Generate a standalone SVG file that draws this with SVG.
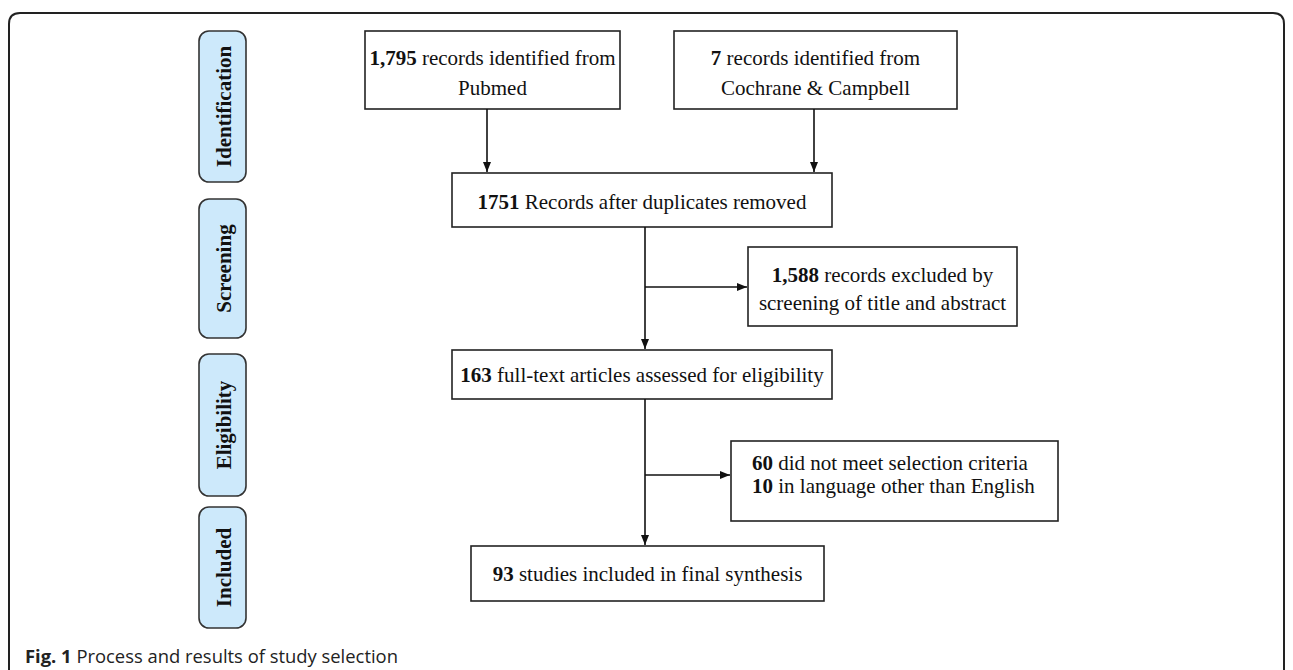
<svg xmlns="http://www.w3.org/2000/svg" width="1293" height="670" viewBox="0 0 1293 670">
<style>
.frame{fill:none;stroke:#222;stroke-width:2}
.phase rect{fill:#cde9fb;stroke:#333;stroke-width:1.6}
.phase text{font-family:"Liberation Serif",serif;font-weight:bold;font-size:21px;fill:#111;text-anchor:middle}
.box rect{fill:#fff;stroke:#222;stroke-width:1.6}
.box text{font-family:"Liberation Serif",serif;font-size:21px;fill:#111;text-anchor:middle}
.box text.l{text-anchor:start}
.b{font-weight:bold}
.conn line{stroke:#111;stroke-width:1.6;fill:none}
.cap{font-family:"Open Sans","Noto Sans",sans-serif;font-size:18.4px;fill:#222}
</style>
<defs>
<marker id="ah" viewBox="0 0 10 10" refX="10" refY="5" markerWidth="10" markerHeight="10" markerUnits="userSpaceOnUse" orient="auto">
<path d="M0,1 L10,5 L0,9 Z" fill="#111"/>
</marker>
</defs>
<path class="frame" d="M9,670 L9,24 Q9,13 20,13 L1273,13 Q1284,13 1284,24 L1284,670"/>

<g id="phase-identification" class="phase"><rect x="199" y="31" width="47" height="151" rx="10"/><text transform="translate(231,106.5) rotate(-90)">Identification</text></g>
<g id="phase-screening" class="phase"><rect x="199" y="199" width="47" height="139" rx="10"/><text transform="translate(231,268.5) rotate(-90)">Screening</text></g>
<g id="phase-eligibility" class="phase"><rect x="199" y="354" width="47" height="142" rx="10"/><text transform="translate(231,425) rotate(-90)">Eligibility</text></g>
<g id="phase-included" class="phase"><rect x="199" y="507" width="47" height="121" rx="10"/><text transform="translate(231,567.5) rotate(-90)">Included</text></g>

<g id="pubmed" class="box"><rect x="365" y="31" width="255" height="78"/><text x="492.5" y="65"><tspan class="b">1,795</tspan> records identified from</text><text x="492.5" y="95">Pubmed</text></g>
<g id="cochrane" class="box"><rect x="674" y="31" width="283" height="78"/><text x="815.5" y="65"><tspan class="b">7</tspan> records identified from</text><text x="815.5" y="95">Cochrane &amp; Campbell</text></g>
<g id="dedup" class="box"><rect x="452" y="173" width="380" height="54"/><text x="642" y="209"><tspan class="b">1751</tspan> Records after duplicates removed</text></g>
<g id="excluded1" class="box"><rect x="748" y="247" width="269" height="79"/><text x="882.5" y="282"><tspan class="b">1,588</tspan> records excluded by</text><text x="882.5" y="310">screening of title and abstract</text></g>
<g id="fulltext" class="box"><rect x="452" y="350" width="380" height="49"/><text x="642" y="382"><tspan class="b">163</tspan> full-text articles assessed for eligibility</text></g>
<g id="excluded2" class="box"><rect x="731" y="441" width="327" height="80"/><text class="l" x="752" y="470"><tspan class="b">60</tspan> did not meet selection criteria</text><text class="l" x="752" y="493"><tspan class="b">10</tspan> in language other than English</text></g>
<g id="included" class="box"><rect x="471" y="546" width="353" height="55"/><text x="647.5" y="581"><tspan class="b">93</tspan> studies included in final synthesis</text></g>

<g id="connectors" class="conn">
<line x1="487" y1="109" x2="487" y2="172" marker-end="url(#ah)"/>
<line x1="814" y1="109" x2="814" y2="172" marker-end="url(#ah)"/>
<line x1="645" y1="227" x2="645" y2="349" marker-end="url(#ah)"/>
<line x1="645" y1="287" x2="747" y2="287" marker-end="url(#ah)"/>
<line x1="645" y1="399" x2="645" y2="545" marker-end="url(#ah)"/>
<line x1="645" y1="475" x2="730" y2="475" marker-end="url(#ah)"/>
</g>

<text class="cap" x="25" y="663"><tspan font-weight="bold">Fig. 1</tspan> Process and results of study selection</text>
</svg>
